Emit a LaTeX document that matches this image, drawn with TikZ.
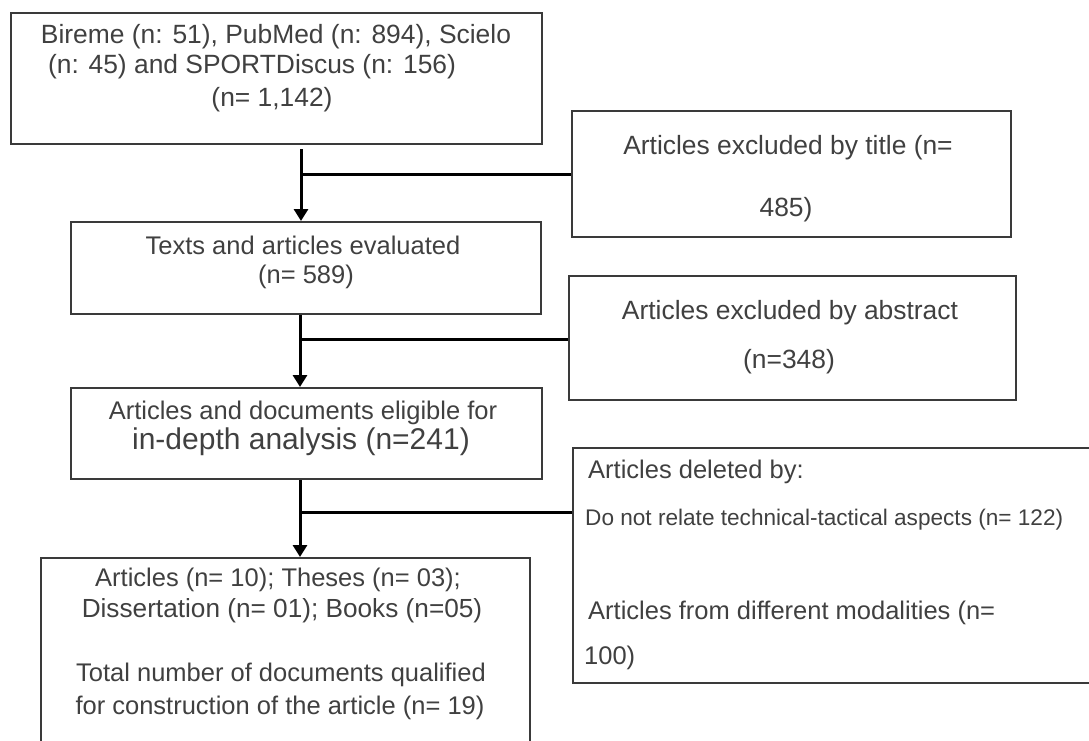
\documentclass[tikz,border=0pt]{standalone}
\usepackage{fontspec}
\setmainfont{Liberation Sans}
\usetikzlibrary{arrows.meta,calc}
\definecolor{txt}{HTML}{404040}
\definecolor{edge}{HTML}{3A3A3A}
\begin{document}
\begin{tikzpicture}[x=1pt,y=-1pt,
  box/.style={draw=edge,line width=2pt,inner sep=0pt,anchor=north west},
  lbl/.style={text=txt,inner sep=0pt,font=\fontsize{25.5}{30}\selectfont},
  lblB/.style={lbl,font=\fontsize{26.4}{31}\selectfont},
  lblL/.style={lbl,anchor=west},
  conn/.style={draw=black,line width=3pt},
  arr/.style={conn,-{Triangle[width=14pt,length=12pt]}}]
\useasboundingbox (0,0) rectangle (1089,740);
\clip (0,0) rectangle (1089,740);
% boxes
\node[box,minimum width=531pt,minimum height=131pt] (b1) at (10,12) {};
\node[box,minimum width=470pt,minimum height=92pt] (b3) at (70,221) {};
\node[box,minimum width=439pt,minimum height=126pt] (t2) at (571,110) {};
\node[box,minimum width=447pt,minimum height=124pt] (t4) at (568,275) {};
\node[box,minimum width=471pt,minimum height=91pt] (b5) at (70,387) {};
\node[box,minimum width=530pt,minimum height=235pt] (t6) at (572,447) {};
\node[box,minimum width=489pt,minimum height=220pt] (b7) at (40,557) {};
% texts
\node[lblB] (l1a) at (276,37) {Bireme (n: 51), PubMed (n: 894), Scielo};
\node[lblB] (l1b) at (252,67) {(n: 45) and SPORTDiscus (n: 156)};
\node[lblB] (l1c) at (272,100) {(n= 1,142)};
\node[lbl] (l3a) at (303,245) {Texts and articles evaluated};
\node[lbl] (l3b) at (306,277) {(n= 589)};
\node[lblB] (l2a) at (788,148) {Articles excluded by title (n=};
\node[lblB] (l2b) at (786,210) {485)};
\node[lblB] (l4a) at (790,313) {Articles excluded by abstract};
\node[lblB] (l4b) at (789,362) {(n=348)};
\node[lbl] (l5a) at (303,413) {Articles and documents eligible for};
\node[lbl,font=\fontsize{30}{34}\selectfont] (l5b) at (301,442) {in-depth analysis (n=241)};
\node[lblL] (l6a) at (588,472) {Articles deleted by:};
\node[lblL,font=\fontsize{22.6}{27}\selectfont] (l6b) at (585,520) {Do not relate technical-tactical aspects (n= 122)};
\node[lblL] (l6c) at (588,613) {Articles from different modalities (n=};
\node[lblL] (l6d) at (584,658) {100)};
\node[lbl] (l7a) at (278,580) {Articles (n= 10); Theses (n= 03);};
\node[lbl,font=\fontsize{26.2}{31}\selectfont] (l7b) at (282,611) {Dissertation (n= 01); Books (n=05)};
\node[lbl] (l7c) at (281,675) {Total number of documents qualified};
\node[lbl] (l7d) at (280,708) {for construction of the article (n= 19)};
% junctions
\coordinate (j1) at (301,174);
\coordinate (j2) at (300,339);
\coordinate (j3) at (300,512);
% connectors
\draw[arr] ($(j1 |- b1.south)+(0,4)$) -- (j1 |- b3.north);
\draw[conn] (j1) -- (j1 -| t2.west);
\draw[arr] (j2 |- b3.south) -- (j2 |- b5.north);
\draw[conn] (j2) -- (j2 -| t4.west);
\draw[arr] (j3 |- b5.south) -- (j3 |- b7.north);
\draw[conn] (j3) -- (j3 -| t6.west);
\end{tikzpicture}
\end{document}
